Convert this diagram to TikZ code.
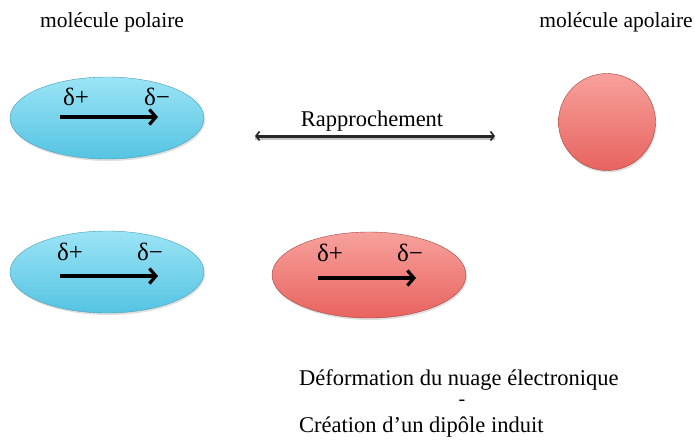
\documentclass[tikz,border=0pt]{standalone}
\usepackage{fontspec}
\setmainfont{Liberation Serif}
\usetikzlibrary{arrows.meta,shadows,calc,shapes.geometric}
\definecolor{bluetop}{HTML}{9BE4F5}
\definecolor{bluebot}{HTML}{55C4E2}
\definecolor{redtop}{HTML}{F7A19C}
\definecolor{redbot}{HTML}{E8635F}
\begin{document}
\begin{tikzpicture}[x=1pt,y=-1pt,
  polar/.style={ellipse,minimum width=194pt,minimum height=82pt,inner sep=0pt,
    top color=bluetop,bottom color=bluebot,draw=bluebot!80!black,line width=0.4pt,
    drop shadow={shadow xshift=1pt,shadow yshift=-2pt,opacity=0.25}},
  induced/.style={ellipse,minimum width=194pt,minimum height=86pt,inner sep=0pt,
    top color=redtop,bottom color=redbot,draw=redbot!70!black,line width=0.4pt,
    drop shadow={shadow xshift=1pt,shadow yshift=-2pt,opacity=0.25}},
  apolar/.style={circle,minimum size=97pt,inner sep=0pt,
    top color=redtop,bottom color=redbot,draw=redbot!70!black,line width=0.4pt,
    drop shadow={shadow xshift=1pt,shadow yshift=-2pt,opacity=0.25}},
  delta/.style={font=\fontsize{25}{28}\selectfont,inner sep=0pt},
  dipole/.style={line width=4.4pt,-{Straight Barb[length=6.5pt,width=15pt,line width=3.2pt]}},
  title/.style={font=\fontsize{21.5}{25}\selectfont,inner sep=0pt},
  caption/.style={font=\fontsize{22.5}{26}\selectfont,inner sep=0pt}
]
\useasboundingbox (0,0) rectangle (695,439);
\node[title] (t1) at (112,22) {molécule polaire};
\node[title] (t2) at (616,22) {molécule apolaire};

% top polar molecule
\node[polar] (e1) at (107,118) {};
\node[delta] (p1) at (76,97) {δ+};
\node[delta] (m1) at (157,97) {δ−};
\coordinate (a1s) at (60,117);
\coordinate (a1e) at (158,117);
\draw[dipole] (a1s) -- (a1e);

% apolar molecule
\node[apolar] (c1) at (607,122) {};

% Rapprochement
\node[caption] (r) at (372,121) {Rapprochement};
\coordinate (rl) at (255,136);
\coordinate (rr) at (495,136);
\draw[gray!45,line width=3pt,transform canvas={yshift=-2pt}] (rl) -- (rr);
\draw[line width=3pt,black!85,{Straight Barb[length=3.5pt,width=9pt,line width=1.6pt]}-{Straight Barb[length=3.5pt,width=9pt,line width=1.6pt]}] (rl) -- (rr);

% bottom polar molecule
\node[polar] (e2) at (107,272) {};
\node[delta] (p2) at (70,252) {δ+};
\node[delta] (m2) at (150,252) {δ−};
\coordinate (a2s) at (60,276);
\coordinate (a2e) at (158,276);
\draw[dipole] (a2s) -- (a2e);

% induced dipole
\node[induced] (e3) at (369,275) {};
\node[delta] (p3) at (330,253) {δ+};
\node[delta] (m3) at (410,253) {δ−};
\coordinate (a3s) at (318,278);
\coordinate (a3e) at (416,278);
\draw[dipole] (a3s) -- (a3e);

% caption
\node[caption,anchor=west] (l1) at (299,380) {Déformation du nuage électronique};
\node[caption,font=\fontsize{20}{22}\selectfont] (l2) at (462,403) {-};
\node[caption,anchor=west] (l3) at (299,427) {Création d’un dipôle induit};
\end{tikzpicture}
\end{document}
